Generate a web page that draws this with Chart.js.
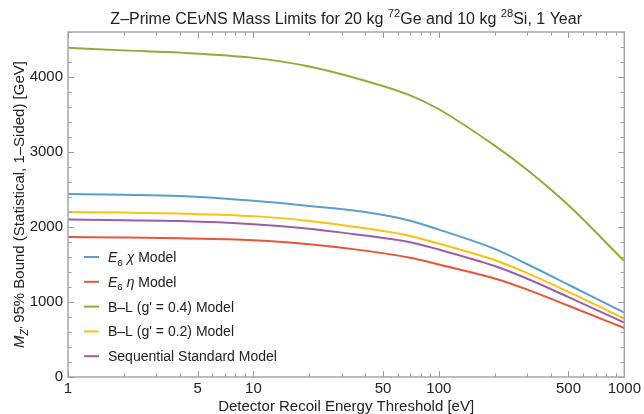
<!DOCTYPE html>
<html>
<head>
<meta charset="utf-8">
<script src="https://cdn.jsdelivr.net/npm/chart.js@4.4.0/dist/chart.umd.min.js"></script>
<style>
html, body { margin: 0; padding: 0; background: #fff; }
#wrap { width: 644px; height: 414px; }
</style>
</head>
<body>
<div id="wrap"><canvas id="myChart"></canvas></div>
<script>
// data (threshold in eV, bound in GeV)
const energies = [1, 2, 4, 10, 20, 40, 70, 100, 200, 300, 500, 1000];
const e6Chi = [2440, 2430, 2413, 2350, 2281, 2199, 2084, 1965, 1708, 1503, 1230, 858];
const e6Eta = [1867, 1860, 1849, 1822, 1771, 1685, 1590, 1500, 1313, 1165, 950, 653];
const bl04 = [4390, 4355, 4325, 4255, 4140, 3950, 3755, 3570, 3085, 2760, 2290, 1545];
const bl02 = [2200, 2192, 2179, 2145, 2081, 1983, 1880, 1779, 1560, 1385, 1135, 779];
const ssm = [2099, 2090, 2080, 2038, 1978, 1886, 1798, 1699, 1480, 1310, 1065, 725];

const xTickLabels = [1, 5, 10, 50, 100, 500, 1000];
const yTickLabels = [0, 1000, 2000, 3000, 4000];

// legend labels as runs of text (it = italic, sub = subscript, sup = superscript)
const seriesLabels = [
  [{t: 'E', it: 1}, {t: '6', sub: 1}, {t: ' '}, {t: 'χ', it: 1}, {t: ' Model'}],
  [{t: 'E', it: 1}, {t: '6', sub: 1}, {t: ' '}, {t: 'η', it: 1}, {t: ' Model'}],
  [{t: 'B–L (g\' = 0.4) Model'}],
  [{t: 'B–L (g\' = 0.2) Model'}],
  [{t: 'Sequential Standard Model'}]
];
const seriesColors = ['#5b9fcf', '#e8553a', '#8cb036', '#fdc112', '#9d5ea5'];

const titleRuns = [
  {t: 'Z–Prime CE'}, {t: 'ν', it: 1}, {t: 'NS Mass Limits for 20 kg '}, {t: '72', sup: 1},
  {t: 'Ge and 10 kg '}, {t: '28', sup: 1}, {t: 'Si, 1 Year'}
];
const yTitleRuns = [
  {t: 'M', it: 1}, {t: 'Z\'', sub: 1, it: 1}, {t: ' 95% Bound (Statistical, 1–Sided) [GeV]'}
];

const FONT = "'Liberation Sans', Arial, sans-serif";

function runFont(r, size) {
  const s = (r.sub || r.sup) ? size * 0.7 : size;
  return (r.it ? 'italic ' : '') + s + 'px ' + FONT;
}
function runsWidth(ctx, runs, size) {
  let w = 0;
  runs.forEach(function (r) { ctx.font = runFont(r, size); w += ctx.measureText(r.t).width; });
  return w;
}
function drawRuns(ctx, runs, x, y, size) {
  ctx.textBaseline = 'alphabetic';
  ctx.textAlign = 'left';
  runs.forEach(function (r) {
    ctx.font = runFont(r, size);
    let dy = 0;
    if (r.sub) dy = size * 0.25;
    if (r.sup) dy = -size * 0.42;
    ctx.fillText(r.t, x, y + dy);
    x += ctx.measureText(r.t).width;
  });
}

const decor = {
  id: 'decor',
  afterDraw(chart) {
    const ctx = chart.ctx;
    const a = chart.chartArea;
    const xs = chart.scales.x, ys = chart.scales.y;
    ctx.save();

    // inward tick marks on all four sides
    ctx.strokeStyle = '#9a9a9a';
    ctx.lineWidth = 1;
    ctx.beginPath();
    for (let d = 1; d < 1000; d *= 10) {
      for (let k = 1; k <= 10; k++) {
        const v = d * k;
        const px = Math.round(xs.getPixelForValue(v)) + 0.5;
        const len = xTickLabels.indexOf(v) >= 0 ? 6 : 3.5;
        ctx.moveTo(px, a.bottom); ctx.lineTo(px, a.bottom - len);
        ctx.moveTo(px, a.top); ctx.lineTo(px, a.top + len);
      }
    }
    for (let v = 0; v <= ys.max; v += 200) {
      const py = Math.round(ys.getPixelForValue(v)) + 0.5;
      const len = v % 1000 === 0 ? 6 : 3.5;
      ctx.moveTo(a.left, py); ctx.lineTo(a.left + len, py);
      ctx.moveTo(a.right, py); ctx.lineTo(a.right - len, py);
    }
    ctx.stroke();

    // frame
    ctx.strokeStyle = '#a6a6a6';
    ctx.lineWidth = 1.5;
    ctx.strokeRect(a.left, a.top, a.right - a.left, a.bottom - a.top);

    ctx.fillStyle = '#222';
    // title
    const tw = runsWidth(ctx, titleRuns, 16);
    drawRuns(ctx, titleRuns, (a.left + a.right) / 2 - tw / 2, 24, 16);

    // y axis title
    const yw = runsWidth(ctx, yTitleRuns, 15);
    ctx.save();
    ctx.translate(24, (a.top + a.bottom) / 2);
    ctx.rotate(-Math.PI / 2);
    drawRuns(ctx, yTitleRuns, -yw / 2, 0, 15);
    ctx.restore();

    // legend
    chart.data.datasets.forEach(function (ds, i) {
      const ly = 257 + i * 24.8;
      ctx.strokeStyle = ds.borderColor;
      ctx.lineWidth = 2;
      ctx.beginPath();
      ctx.moveTo(84, ly); ctx.lineTo(99, ly);
      ctx.stroke();
      ctx.fillStyle = '#222';
      drawRuns(ctx, seriesLabels[i], 108, ly + 5, 14);
    });
    ctx.restore();
  }
};

function LoadDataToChart() {
  const ctx = document.getElementById('myChart');
  const series = [e6Chi, e6Eta, bl04, bl02, ssm];

  new Chart(ctx, {
    type: 'line',
    data: {
      labels: energies,
      datasets: series.map(function (s, i) {
        return {
          label: seriesLabels[i].map(function (r) { return r.t; }).join(''),
          data: energies.map(function (e, j) { return {x: e, y: s[j]}; }),
          borderColor: seriesColors[i],
          backgroundColor: seriesColors[i],
          borderWidth: 2,
          pointRadius: 0,
          cubicInterpolationMode: 'monotone',
          fill: false
        };
      })
    },
    options: {
      responsive: true,
      maintainAspectRatio: false,
      animation: false,
      layout: { padding: { top: 32, right: 17, left: 0, bottom: 0 } },
      plugins: { legend: { display: false }, tooltip: { enabled: false } },
      scales: {
        x: {
          type: 'logarithmic',
          min: 1,
          max: 1000,
          afterBuildTicks: function (scale) {
            scale.ticks = xTickLabels.map(function (v) { return {value: v}; });
          },
          afterFit: function (scale) { scale.height = 37; },
          grid: { display: false, drawTicks: false },
          border: { display: false },
          ticks: {
            autoSkip: false,
            maxRotation: 0,
            padding: 3,
            color: '#222',
            font: { family: FONT, size: 15 },
            callback: function (v) { return String(v); }
          },
          title: {
            display: true,
            text: 'Detector Recoil Energy Threshold [eV]',
            color: '#222',
            font: { family: FONT, size: 15, lineHeight: 1 },
            padding: { top: 0, bottom: 0 }
          }
        },
        y: {
          min: 0,
          max: 4600,
          afterBuildTicks: function (scale) {
            scale.ticks = yTickLabels.map(function (v) { return {value: v}; });
          },
          afterFit: function (scale) { scale.width = 68; },
          grid: { display: false, drawTicks: false },
          border: { display: false },
          ticks: {
            padding: 5,
            color: '#222',
            font: { family: FONT, size: 15 },
            callback: function (v) { return String(v); }
          }
        }
      }
    },
    plugins: [decor]
  });
}

LoadDataToChart();
</script>
</body>
</html>
